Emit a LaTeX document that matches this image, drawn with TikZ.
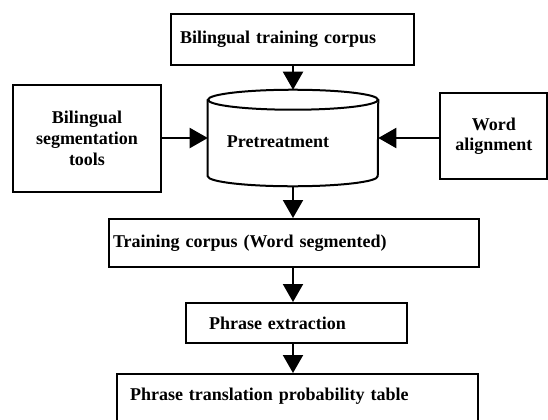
\documentclass[tikz,border=0pt]{standalone}
\usepackage{fontspec}
\setmainfont{Liberation Serif}
\usetikzlibrary{arrows.meta}
\begin{document}
\begin{tikzpicture}[x=0.75pt,y=0.75pt,>={Triangle[width=15pt,length=13.5pt]},
txt/.style={font=\fontsize{13.5}{16}\selectfont\bfseries,inner sep=0pt},box/.style={txt,draw,line width=1.5pt},leftbox/.style={box,align=left},midbox/.style={box,align=center},
wall/.style={line width=1.5pt},arr/.style={->,line width=1.5pt}]
\useasboundingbox (0,0) rectangle (548,419);
\node[leftbox,minimum width=182.25pt,minimum height=38.25pt,text width=168.75pt] (tcorpus) at (292.5,379.5) {Bilingual training corpus};
\node[txt,minimum width=127.5pt,minimum height=72pt,text height=16pt,text depth=1.7pt] (pre) at (293,281) {Pretreatment\hspace*{22.5pt}};
\draw[wall] ([yshift=-7.5pt]pre.north west) -- ([yshift=7.5pt]pre.south west) arc[start angle=180,end angle=360,x radius=63.75pt,y radius=7.5pt] -- ([yshift=-7.5pt]pre.north east);
\draw[wall] ([yshift=-7.5pt]pre.north) ellipse[x radius=63.75pt,y radius=7.5pt];
\node[midbox,minimum width=111pt,minimum height=80.25pt] (segtool) at (87,280.5) {Bilingual\\segmentation\\tools};
\node[midbox,minimum width=80.25pt,minimum height=64.5pt,font=\fontsize{13.5}{15}\selectfont\bfseries] (wordal) at (493.75,283) {Word\\alignment};
\node[leftbox,minimum width=277.5pt,minimum height=36pt,text width=271.5pt] (wseg) at (294,176) {Training corpus (Word segmented)};
\node[leftbox,minimum width=165.75pt,minimum height=30pt,text width=131.25pt] (phrase) at (296.5,96) {Phrase extraction};
\node[leftbox,anchor=north,minimum width=270.75pt,text width=251.25pt,text height=19.5pt,text depth=40pt] (ptable) at (297.5,46) {Phrase translation probability table};
\draw[arr] (tcorpus.south -| pre) -- (pre);
\draw[arr] (segtool.east |- pre) -- (pre);
\draw[arr] (wordal.west |- pre) -- (pre);
\draw[arr] (pre) -- (pre |- wseg.north);
\draw[arr] (wseg.south -| pre) -- (pre |- phrase.north);
\draw[arr] (phrase.south -| pre) -- (pre |- ptable.north);
\end{tikzpicture}
\end{document}
